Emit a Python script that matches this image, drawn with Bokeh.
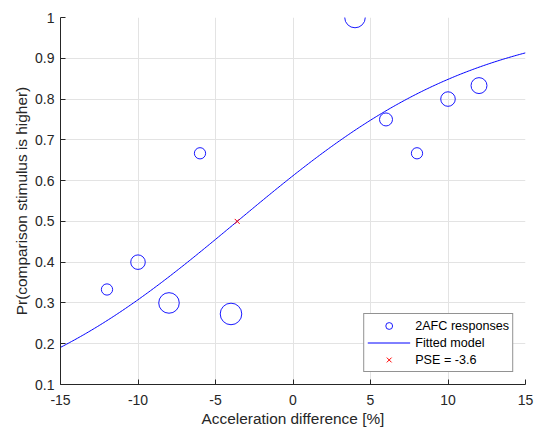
import numpy as np
from bokeh.plotting import figure
from bokeh.models import (Range1d, FixedTicker, CustomJSTickFormatter, Legend,
                          LegendItem, ColumnDataSource)
from bokeh.embed import file_html
from bokeh.resources import INLINE

# ---- data ----
accel_diff = [-12, -10, -8, -6, -4, 4, 6, 8, 10, 12]
prop_higher = [0.333, 0.4, 0.3, 0.667, 0.273, 1.0, 0.75, 0.667, 0.8, 0.833]
n_trials = [3, 5, 10, 3, 11, 10, 4, 3, 5, 6]

pse = -3.6          # point of subjective equality (from legend)
fit_scale = 7.9     # logistic spread

x_ticks = [-15, -10, -5, 0, 5, 10, 15]
y_ticks = [0.1, 0.2, 0.3, 0.4, 0.5, 0.6, 0.7, 0.8, 0.9, 1.0]

FONT = "Liberation Sans"
DARK = "#262626"

p = figure(width=534, height=432, output_backend="svg", toolbar_location=None,
           x_range=Range1d(-15, 15), y_range=Range1d(0.1, 1.0),
           min_border_left=60, min_border_right=9, min_border_top=17,
           min_border_bottom=48)
p.outline_line_color = None
p.background_fill_color = "white"
p.border_fill_color = "white"

# grid
for g in (p.xgrid, p.ygrid):
    g.grid_line_color = "#e3e3e3"
    g.grid_line_width = 1

p.xaxis.ticker = FixedTicker(ticks=x_ticks)
p.yaxis.ticker = FixedTicker(ticks=y_ticks)
p.xaxis.formatter = CustomJSTickFormatter(code="return tick.toString();")
p.yaxis.formatter = CustomJSTickFormatter(code="return Number(tick.toFixed(2)).toString();")
p.xgrid.ticker = p.xaxis.ticker
p.ygrid.ticker = p.yaxis.ticker

for ax in (p.xaxis, p.yaxis):
    ax.axis_line_color = DARK
    ax.axis_line_width = 1
    ax.major_tick_line_color = DARK
    ax.major_tick_in = 5
    ax.major_tick_out = 0
    ax.minor_tick_line_color = None
    ax.major_label_text_font = FONT
    ax.major_label_text_font_size = "14px"
    ax.major_label_text_color = DARK
    ax.axis_label_text_font = FONT
    ax.axis_label_text_font_size = "15.4px"
    ax.axis_label_text_font_style = "normal"
    ax.axis_label_text_color = DARK

p.xaxis.axis_label = "Acceleration difference [%]"
p.yaxis.axis_label = "Pr(comparison stimulus is higher)"
p.xaxis.major_label_standoff = 10
p.xaxis.axis_label_standoff = 2
p.yaxis.major_label_standoff = 6
p.yaxis.axis_label_standoff = 2

# fitted logistic model
xs = np.linspace(-15, 15, 301)
ys = 1.0 / (1.0 + np.exp(-(xs - pse) / fit_scale))
curve_r = p.line(xs, ys, line_color="#0000ff", line_width=1)

# data points, marker area proportional to number of trials
sizes = [6.5 * np.sqrt(n) for n in n_trials]
src = ColumnDataSource(dict(x=accel_diff, y=prop_higher, s=sizes))
p.scatter("x", "y", size="s", source=src, marker="circle",
          fill_color=None, line_color="#0000ff", line_width=0.9)

# PSE marker
pse_r = p.scatter([pse], [0.5], marker="x", size=7, line_color="#ff0000",
                  line_width=1)

# legend-only circle
leg_r = p.scatter([np.nan], [np.nan], marker="circle", size=8.7,
                  fill_color=None, line_color="#0000ff", line_width=0.9)

legend = Legend(items=[
    LegendItem(label="2AFC responses", renderers=[leg_r]),
    LegendItem(label="Fitted model", renderers=[curve_r]),
    LegendItem(label="PSE = -3.6", renderers=[pse_r]),
], location="bottom_right")
legend.margin = 12
legend.padding = 3
legend.spacing = 0
legend.glyph_width = 43
legend.glyph_height = 17
legend.label_height = 17
legend.label_standoff = 5
legend.label_text_font = FONT
legend.label_text_font_size = "12.6px"
legend.label_text_color = "#000000"
legend.border_line_color = DARK
legend.border_line_width = 1
legend.background_fill_color = "white"
legend.background_fill_alpha = 1
p.add_layout(legend, "center")

open("out.html", "w").write(file_html(p, INLINE))
